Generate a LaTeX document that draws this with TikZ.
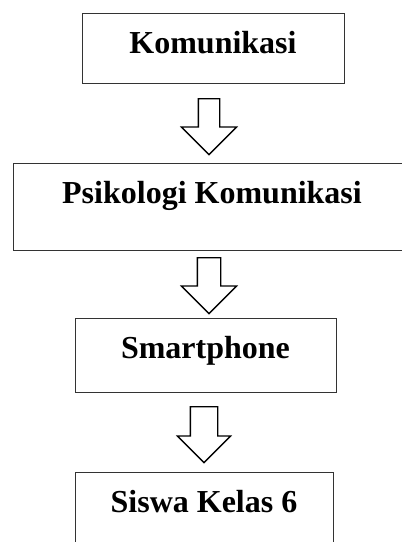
\documentclass[tikz,border=0pt]{standalone}
\usepackage{fontspec}
\setmainfont{Liberation Serif}
\usepackage{tikz}
\usetikzlibrary{positioning,shapes.arrows}

\begin{document}
\begin{tikzpicture}[x=1pt, y=-1pt,
    box/.style={draw=black!80, line width=0.9pt, inner sep=0pt, anchor=base,
        text height=40pt, text depth=#1, font=\fontsize{32}{38}\selectfont\bfseries},
    downarrow/.style={single arrow, draw, line width=1.3pt, rotate=-90, anchor=tail,
        minimum height=56pt, inner xsep=0pt, single arrow head extend=#1}]
    \path[use as bounding box, clip] (0,0) rectangle (402,542);

    \node[box=30pt, minimum width=262pt] (komunikasi) at (213,53) {Komunikasi};
    \node[box=47pt, minimum width=398pt] (psikologi) at (212,203) {Psikologi Komunikasi};
    \node[box=34pt, minimum width=261pt] (smartphone) at (205.5,358) {Smartphone};
    \node[box=50pt, minimum width=258pt] (siswa) at (204,512) {Siswa Kelas 6};

    \node[downarrow=17pt, inner ysep=10pt] (panahA) at (209,98) {};
    \node[downarrow=16pt, inner ysep=11pt] (panahB) at (209,257) {};
    \node[downarrow=13pt, inner ysep=13pt] (panahC) at (204,406) {};
\end{tikzpicture}
\end{document}
